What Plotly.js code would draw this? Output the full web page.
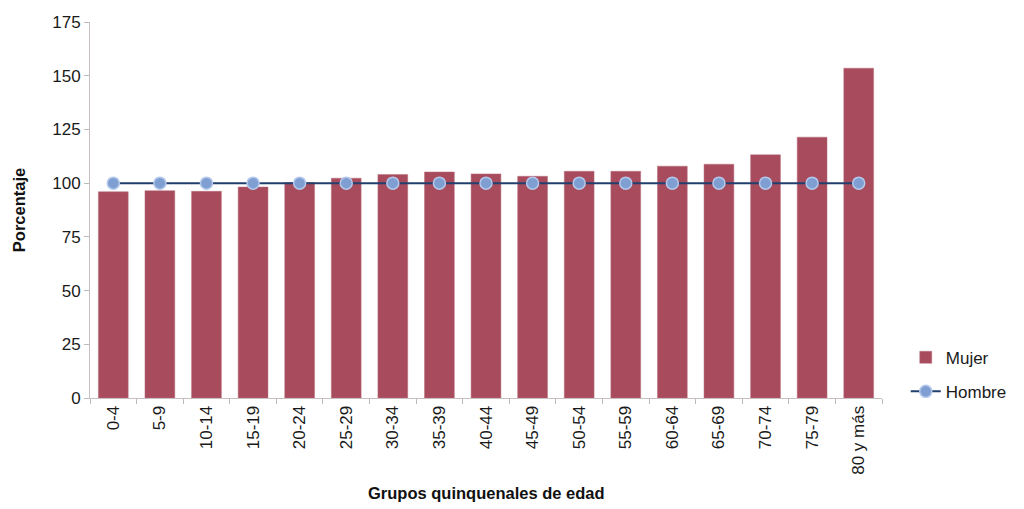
<!DOCTYPE html>
<html>
<head>
<meta charset="utf-8">
<script src="https://cdn.plot.ly/plotly-3.0.1.min.js"></script>
<style>html,body{margin:0;padding:0;background:#fff;}#chart{width:1024px;height:509px;}</style>
</head>
<body>
<div id="chart"></div>
<script>
const categories = ["0-4","5-9","10-14","15-19","20-24","25-29","30-34","35-39","40-44","45-49","50-54","55-59","60-64","65-69","70-74","75-79","80 y más"];
const mujer = [96, 96.5, 96.2, 98.2, 100.3, 102.3, 104, 105.2, 104.3, 103.2, 105.5, 105.5, 107.9, 108.8, 113.2, 121.4, 153.5];
const hombre = [100,100,100,100,100,100,100,100,100,100,100,100,100,100,100,100,100];
const yTicks = [0,25,50,75,100,125,150,175];

const traces = [
  {type:'bar', name:'Mujer', x:categories, y:mujer, legendgroup:'m',
   marker:{color:'#a84b5d', line:{color:'#b8707e', width:0.5}}},
  {type:'scatter', mode:'lines+markers', name:'Hombre', x:categories, y:hombre, legendgroup:'h',
   line:{color:'#203f6e', width:2},
   marker:{color:'#7f9fd2', size:12, line:{color:'#b3c8ea', width:1.5}}}
];

const layout = {
  width:1024, height:509,
  margin:{l:90, r:138, t:22, b:111},
  paper_bgcolor:'#fff', plot_bgcolor:'#fff',
  font:{family:'Liberation Sans, Arial, sans-serif', size:17, color:'#1a1a1a'},
  bargap:0.36,
  showlegend:true,
  legend:{x:1.03, y:0.155, xanchor:'left', yanchor:'top', traceorder:'grouped', tracegroupgap:9,
          font:{size:17, color:'#1a1a1a'}, bgcolor:'rgba(0,0,0,0)'},
  xaxis:{
    type:'category', tickangle:-90, range:[-0.5, 16.5], automargin:false,
    showline:true, linecolor:'#c8c0c0', linewidth:1,
    ticks:'outside', tickson:'boundaries', ticklen:5, tickcolor:'#bbb',
    showgrid:false, zeroline:false,
    tickfont:{size:17, color:'#1a1a1a'}
  },
  yaxis:{
    range:[0,175], tickvals:yTicks, ticktext:yTicks.map(String), automargin:false,
    showline:true, linecolor:'#c8c0c0', linewidth:1,
    ticks:'outside', ticklen:5, tickcolor:'#bbb',
    showgrid:false, zeroline:false,
    tickfont:{size:17, color:'#1a1a1a'},
    title:{text:'Porcentaje', font:{size:16.5, color:'#111', weight:'bold'}, standoff:22}
  },
  annotations:[
    {text:'Grupos quinquenales de edad', xref:'paper', yref:'paper', x:0.5, y:-0.253,
     xanchor:'center', yanchor:'middle', showarrow:false,
     font:{size:16.5, color:'#111', weight:'bold'}}
  ]
};

Plotly.newPlot('chart', traces, layout, {displayModeBar:false, staticPlot:true});
</script>
</body>
</html>
